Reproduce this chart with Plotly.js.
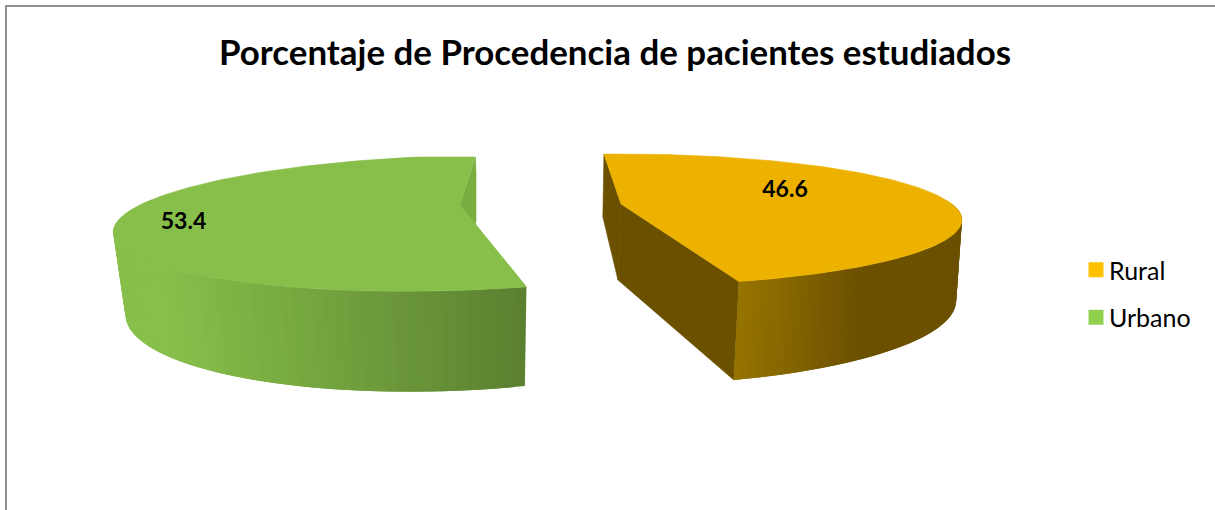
<!DOCTYPE html>
<html><head><meta charset="utf-8">
<script src="https://cdn.plot.ly/plotly-3.0.1.min.js"></script>
<style>html,body{margin:0;padding:0;background:#fff}#c{width:1215px;height:510px}</style>
</head><body><div id="c"></div>
<script>
var categories = ["Rural", "Urbano"];
var values = [46.6, 53.4];
var legendColors = ["#FFC000", "#92D050"];
var chartTitle = "Porcentaje de Procedencia de pacientes estudiados";
var FONT = "Lato, Carlito, Calibri, sans-serif";

// 3D view of the exploded pie (perspective projection of a unit circle)
var startAngle = -3.66;
var view = {
  Rural: {
    top: {cx:621, cy:204, a:331, e:0, b:62, k:0.24},
    bot: {cx:618, cy:280, a:328, e:-2, b:79, k:0.25},
    topColor:"#EDB200", cutColor:"#6B5000",
    wallFrom:[150,116,0], wallTo:[107,80,0], gradX:[738,860], hiddenAngle:90,
    labelAt:[785,191]
  },
  Urbano: {
    top: {cx:460, cy:205, a:320, e:-40, b:63, k:0.27},
    bot: {cx:462, cy:281, a:313, e:-39.5, b:83, k:0.25},
    topColor:"#87BF4A", cutColor:"#78AE40",
    wallFrom:[135,191,74], wallTo:[90,128,48], gradX:[170,525], hiddenAngle:275,
    labelAt:[183.5,223],
    clip:{xMax:476, yMin:157}
  }
};

function proj(g, deg){
  var t = deg*Math.PI/180, u = Math.sin(t), v = -Math.cos(t), s = 1-g.k*v;
  return [g.cx+(g.a*u+g.e*v)/s, g.cy+g.b*v/s];
}
function clipPoly(pts, inside, cross){
  var out = [];
  for (var i=0;i<pts.length;i++){
    var p=pts[i], q=pts[(i+1)%pts.length], a=inside(p), b=inside(q);
    if (a) out.push(p);
    if (a!==b) out.push(cross(p,q));
  }
  return out;
}
function clipY(pts,yMin){
  return clipPoly(pts,function(p){return p[1]>=yMin;},function(p,q){
    var r=(yMin-p[1])/(q[1]-p[1]);return [p[0]+r*(q[0]-p[0]),yMin];});
}
function clipX(pts,xMax){
  return clipPoly(pts,function(p){return p[0]<=xMax;},function(p,q){
    var r=(xMax-p[0])/(q[0]-p[0]);return [xMax,p[1]+r*(q[1]-p[1])];});
}
function poly(pts,color,lw){
  return {type:"scatter",mode:"lines",x:pts.map(function(p){return p[0];}).concat([pts[0][0]]),
    y:pts.map(function(p){return p[1];}).concat([pts[0][1]]),fill:"toself",fillcolor:color,
    line:{color:color,width:lw===undefined?0.6:lw},hoverinfo:"skip",showlegend:false};
}
function mix(c0,c1,r){
  r=Math.max(0,Math.min(1,r));
  return "rgb("+c0.map(function(c,i){return Math.round(c+(c1[i]-c)*r);}).join(",")+")";
}

var traces = [];
var total = values.reduce(function(a,b){return a+b;},0);
var angle = startAngle;
var spans = {};
categories.forEach(function(name,i){
  var sweep = 360*values[i]/total;
  spans[name] = [angle, angle+sweep];
  angle += sweep;
});

categories.forEach(function(name){
  var w = view[name], t0 = spans[name][0], t1 = spans[name][1];
  var ct=[w.top.cx,w.top.cy], cb=[w.bot.cx,w.bot.cy];
  // radial cut walls
  [t0,t1].forEach(function(t){
    var pts=[ct,proj(w.top,t),proj(w.bot,t),cb];
    if (w.clip && t===t1) pts=clipY(clipX(pts,w.clip.xMax),w.clip.yMin);
    else if (w.clip) return;
    traces.push(poly(pts,w.cutColor));
  });
  // curved outer wall, shaded in strips that overlap the next one to hide seams
  var lo, hi;
  if (name==="Rural"){lo=w.hiddenAngle;hi=t1;} else {lo=t0;hi=w.hiddenAngle;}
  var n=70, step=(hi-lo)/n;
  for (var j=0;j<n;j++){
    var a=lo+step*j, b=lo+step*(j+1), bo=Math.min(hi,b+step);
    var p1=proj(w.top,a),p2=proj(w.top,bo),p3=proj(w.bot,bo),p4=proj(w.bot,a);
    var m1=proj(w.top,b),m2=proj(w.bot,b);
    var mid=(p1[0]+m1[0]+m2[0]+p4[0])/4;
    var r=(mid-w.gradX[0])/(w.gradX[1]-w.gradX[0]);
    traces.push(poly([p1,p2,p3,p4],mix(w.wallFrom,w.wallTo,r),0));
  }
  // top face
  var face=[ct], steps=160;
  for (var k=0;k<=steps;k++) face.push(proj(w.top,t0+(t1-t0)*k/steps));
  if (w.clip) face=clipY(face,w.clip.yMin);
  traces.push(poly(face,w.topColor));
});

// data labels
traces.push({type:"scatter",mode:"text",
  x:categories.map(function(n){return view[n].labelAt[0];}),
  y:categories.map(function(n){return view[n].labelAt[1];}),
  text:values.map(function(v){return v.toFixed(1);}),
  textposition:"middle center",
  textfont:{family:FONT,size:23,color:"#000",weight:700},
  hoverinfo:"skip",showlegend:false});

// legend entries
categories.forEach(function(name,i){
  traces.push({type:"scatter",mode:"markers",x:[null],y:[null],name:name,legendgroup:name,
    marker:{symbol:"square",size:15,color:legendColors[i]},hoverinfo:"skip"});
});

var layout = {
  width:1215,height:510,margin:{l:0,r:0,t:0,b:0},
  paper_bgcolor:"#fff",plot_bgcolor:"#fff",
  xaxis:{range:[0,1215],visible:false,fixedrange:true},
  yaxis:{range:[510,0],visible:false,fixedrange:true},
  title:{text:"<b>"+chartTitle+"</b>",font:{family:FONT,size:34.9,color:"#000"},
    x:615/1215,xanchor:"center",y:1-53/510,yanchor:"middle"},
  legend:{x:1076/1215,xanchor:"left",y:1-247/510,yanchor:"top",yref:"paper",
    font:{family:FONT,size:25,color:"#000"},tracegroupgap:12,traceorder:"grouped",
    bgcolor:"rgba(0,0,0,0)",itemwidth:30},
  shapes:[
    {type:"line",xref:"x",yref:"y",x0:6,x1:6,y0:5,y1:510,line:{color:"#8F8F8F",width:2}},
    {type:"line",xref:"x",yref:"y",x0:5,x1:1215,y0:6,y1:6,line:{color:"#8F8F8F",width:2}}
  ],
  showlegend:true
};
Plotly.newPlot("c",traces,layout,{staticPlot:true,displayModeBar:false}).then(function(){
  document.querySelectorAll("#c .legendtext").forEach(function(t){
    t.setAttribute("x", parseFloat(t.getAttribute("x"))-7);
  });
});
</script></body></html>
